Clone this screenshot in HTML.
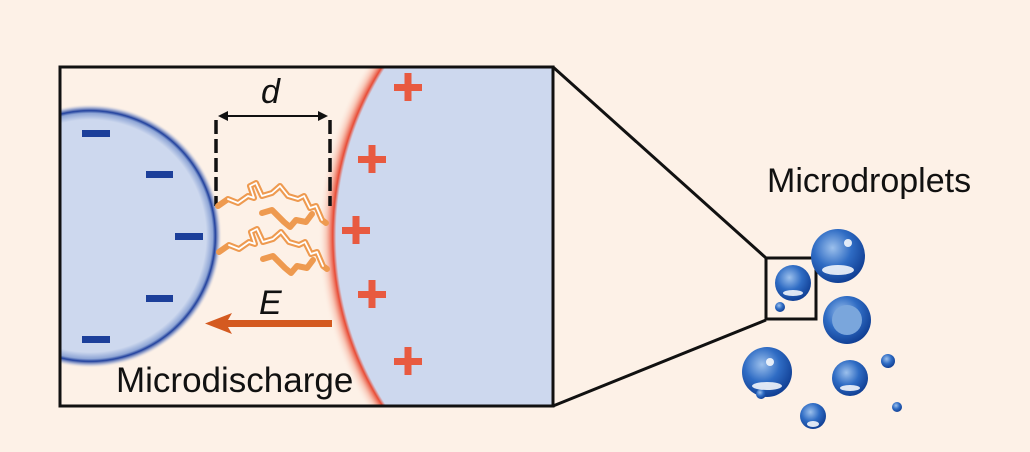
<!DOCTYPE html>
<html><head><style>
html,body{margin:0;padding:0;background:#fdf1e7;overflow:hidden;width:1030px;height:452px;}
svg{display:block}
text{font-family:"Liberation Sans",sans-serif;}
</style></head><body>
<svg width="1030" height="452" viewBox="0 0 1030 452" xmlns="http://www.w3.org/2000/svg">
<defs>
<clipPath id="box"><rect x="60" y="67" width="493" height="339"/></clipPath>
<radialGradient id="lg" cx="90" cy="236" r="132" gradientUnits="userSpaceOnUse">
<stop offset="0.88" stop-color="#cdd8ee"/><stop offset="0.93" stop-color="#8fa6d6"/><stop offset="0.95" stop-color="#1f3f9c"/><stop offset="0.975" stop-color="#6f88c6" stop-opacity="0.5"/><stop offset="1" stop-color="#fdf1e7" stop-opacity="0"/></radialGradient>
<radialGradient id="rg" cx="648" cy="236" r="330" gradientUnits="userSpaceOnUse">
<stop offset="0.945" stop-color="#cdd8ee"/><stop offset="0.955" stop-color="#e84b35"/><stop offset="0.975" stop-color="#f4a08a" stop-opacity="0.5"/><stop offset="1" stop-color="#fdf1e7" stop-opacity="0"/></radialGradient>
<radialGradient id="drop" cx="0.4" cy="0.35" r="0.7">
<stop offset="0" stop-color="#9cc0ec"/><stop offset="0.5" stop-color="#2f6cc4"/><stop offset="1" stop-color="#0d3a8f"/></radialGradient>
</defs>
<rect width="1030" height="452" fill="#fdf1e7"/>
<g clip-path="url(#box)">
<rect x="60" y="67" width="493" height="339" fill="#fdf1e7"/>
<circle cx="90" cy="236" r="132" fill="url(#lg)"/>
<circle cx="648" cy="236" r="330" fill="url(#rg)"/>
</g>
<rect x="60" y="67" width="493" height="339" fill="none" stroke="#111" stroke-width="3"/>
<g fill="#1c3f9a">
<rect x="82" y="130" width="28" height="7"/><rect x="146" y="171" width="27" height="7"/><rect x="175" y="233" width="28" height="7"/><rect x="146" y="295" width="27" height="7"/><rect x="82" y="336" width="28" height="7"/>
</g>
<g fill="#e85a40">
<path d="M394 84h28v7h-28z M404.5 73h7v28h-7z"/>
<path d="M358 156h28v7h-28z M368.5 145h7v28h-7z"/>
<path d="M342 227h28v7h-28z M352.5 216h7v28h-7z"/>
<path d="M358 291h28v7h-28z M368.5 280h7v28h-7z"/>
<path d="M394 358h28v7h-28z M404.5 347h7v28h-7z"/>
</g>
<g stroke="#111" stroke-width="3.5" stroke-dasharray="14,5">
<line x1="216" y1="120" x2="216" y2="206"/><line x1="330" y1="120" x2="330" y2="206"/>
</g>
<line x1="224" y1="116" x2="322" y2="116" stroke="#111" stroke-width="2"/>
<path d="M218 116l10-5v10z M328 116l-10-5v10z" fill="#111"/>
<text x="261" y="103" font-size="34" font-style="italic" fill="#111">d</text>
<g fill="none" stroke-linejoin="round" stroke-linecap="round">
<g id="l1">
<g stroke="#ee9a50" stroke-width="6">
<polyline points="218,206 228,199 238,203 248,196 254,198 250,186 256,183 262,196 272,193 280,186 288,196 298,199 304,196 310,208 316,206 322,220 326,223"/>
<polyline points="262,213 272,210 278,216 284,222 290,227 296,220 306,222 312,214"/>
</g>
<g stroke="#fff" stroke-width="1.8">
<polyline points="228,199 238,203 248,196 254,198 250,186 256,183 262,196 272,193 280,186 288,196 298,199 304,196 310,208 316,206 322,220"/>
</g>
</g>
<use href="#l1" transform="translate(1,46)"/>
</g>
<rect x="225" y="320" width="107" height="7" fill="#d45a20"/>
<path d="M205 323.5 L232 313 L226 323.5 L232 334 Z" fill="#d45a20"/>
<text x="259" y="314" font-size="34" font-style="italic" fill="#111">E</text>
<text x="116" y="392" font-size="35" fill="#111">Microdischarge</text>
<line x1="553" y1="67" x2="766" y2="258" stroke="#111" stroke-width="3"/>
<line x1="553" y1="406" x2="766" y2="320" stroke="#111" stroke-width="3"/>
<rect x="766" y="258" width="50" height="61" fill="none" stroke="#111" stroke-width="3"/>
<text x="767" y="192" font-size="34" fill="#111">Microdroplets</text>
<g fill="url(#drop)">
<circle cx="793" cy="283" r="18"/>
<circle cx="780" cy="307" r="5"/>
<circle cx="838" cy="256" r="27"/>
<circle cx="847" cy="320" r="24"/>
<circle cx="767" cy="372" r="25"/>
<circle cx="850" cy="378" r="18"/>
<circle cx="888" cy="361" r="7"/>
<circle cx="761" cy="394" r="5"/>
<circle cx="813" cy="416" r="13"/>
<circle cx="897" cy="407" r="5"/>
</g>
<g fill="#fff" opacity="0.85">
<ellipse cx="838" cy="270" rx="16" ry="5"/><ellipse cx="793" cy="293" rx="10" ry="3"/>
<ellipse cx="767" cy="386" rx="15" ry="4"/><ellipse cx="850" cy="388" rx="10" ry="3"/>
<ellipse cx="813" cy="424" rx="6" ry="3"/><circle cx="848" cy="243" r="4"/><circle cx="770" cy="362" r="4"/>
</g>
<circle cx="847" cy="320" r="15" fill="#7aa6dc"/>
</svg>
</body></html>
